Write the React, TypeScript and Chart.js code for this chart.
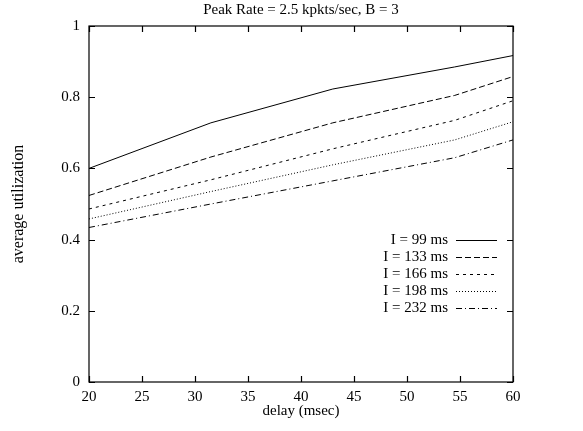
import React, { useEffect, useRef } from "react";
import { Chart, registerables } from "chart.js";

Chart.register(...registerables);

// ---- data ----
const delays = [20, 31.5, 43, 54.5, 60];
const seriesLabels = ["I = 99 ms", "I = 133 ms", "I = 166 ms", "I = 198 ms", "I = 232 ms"];
const util99 = [0.6, 0.728, 0.823, 0.885, 0.917];
const util133 = [0.524, 0.632, 0.728, 0.805, 0.858];
const util166 = [0.486, 0.568, 0.655, 0.735, 0.79];
const util198 = [0.458, 0.535, 0.61, 0.68, 0.731];
const util232 = [0.434, 0.5, 0.565, 0.63, 0.68];
const xTickValues = [20, 25, 30, 35, 40, 45, 50, 55, 60];
const yTickValues = [0, 0.2, 0.4, 0.6, 0.8, 1];
const titleText = "Peak Rate = 2.5 kpkts/sec, B = 3";
const xTitle = "delay (msec)";
const yTitle = "average utilization";

const seriesValues = [util99, util133, util166, util198, util232];
const dashPatterns: number[][] = [[], [6, 3], [3, 4], [1, 2], [6, 3, 1, 3]];
const FONT = "'Liberation Serif', 'Times New Roman', serif";
const FS = 15;

const framePlugin = {
  id: "gnuplotFrame",
  afterDatasetsDraw(chart: any) {
    const { ctx, chartArea } = chart;
    const { left, right, top, bottom } = chartArea;
    const xs = chart.scales.x;
    const ys = chart.scales.y;
    ctx.save();
    ctx.strokeStyle = "#000";
    ctx.lineWidth = 1.2;
    ctx.setLineDash([]);
    ctx.strokeRect(left, top, right - left, bottom - top);
    const tl = 6;
    ctx.beginPath();
    xs.ticks.forEach((t: any) => {
      const px = Math.round(xs.getPixelForValue(t.value)) + 0.5;
      ctx.moveTo(px, bottom);
      ctx.lineTo(px, bottom - tl);
      ctx.moveTo(px, top);
      ctx.lineTo(px, top + tl);
    });
    ys.ticks.forEach((t: any) => {
      const py = Math.round(ys.getPixelForValue(t.value)) + 0.5;
      ctx.moveTo(left, py);
      ctx.lineTo(left + tl, py);
      ctx.moveTo(right, py);
      ctx.lineTo(right - tl, py);
    });
    ctx.stroke();

    // title
    ctx.fillStyle = "#000";
    ctx.font = `${FS}px ${FONT}`;
    ctx.textAlign = "center";
    ctx.textBaseline = "middle";
    ctx.fillText(titleText, (left + right) / 2, top - 16);

    // legend
    const textRight = right - 65;
    const sampleL = right - 57;
    const sampleR = right - 16;
    const rowTop = top + 214;
    ctx.textAlign = "right";
    chart.data.datasets.forEach((ds: any, i: number) => {
      const ry = rowTop + i * 17;
      ctx.fillText(ds.label, textRight, ry);
      ctx.beginPath();
      ctx.lineWidth = 1;
      ctx.setLineDash(ds.borderDash || []);
      ctx.moveTo(sampleL, ry + 0.5);
      ctx.lineTo(sampleR, ry + 0.5);
      ctx.stroke();
    });
    ctx.restore();
  },
};

export default function App() {
  const ref = useRef<HTMLCanvasElement | null>(null);
  useEffect(() => {
    document.body.style.margin = "0";
    const canvas = ref.current;
    if (!canvas) return;
    const chart = new Chart(canvas, {
      type: "line",
      data: {
        datasets: seriesLabels.map((label, i) => ({
          label,
          data: delays.map((d, j) => ({ x: d, y: seriesValues[i][j] })),
          borderColor: "#000",
          backgroundColor: "#000",
          borderWidth: 1,
          borderDash: dashPatterns[i],
          pointRadius: 0,
          tension: 0,
          fill: false,
        })),
      },
      options: {
        animation: false,
        responsive: false,
        devicePixelRatio: 1,
        layout: { padding: { top: 26, right: 70, bottom: 0, left: 0 } },
        plugins: {
          legend: { display: false },
          title: { display: false },
          tooltip: { enabled: false },
        },
        scales: {
          x: {
            type: "linear",
            min: 20,
            max: 60,
            afterBuildTicks: (scale: any) => {
              scale.ticks = xTickValues.map((v) => ({ value: v }));
            },
            afterFit: (scale: any) => {
              scale.height = 49;
            },
            grid: { display: false, drawTicks: false },
            border: { display: false },
            ticks: {
              padding: 6,
              color: "#000",
              font: { family: FONT, size: FS },
              maxRotation: 0,
            },
            title: {
              display: true,
              text: xTitle,
              color: "#000",
              font: { family: FONT, size: FS },
              padding: { top: 0, bottom: 11 },
            },
          },
          y: {
            type: "linear",
            min: 0,
            max: 1,
            afterBuildTicks: (scale: any) => {
              scale.ticks = yTickValues.map((v) => ({ value: v }));
            },
            afterFit: (scale: any) => {
              scale.width = 89;
            },
            grid: { display: false, drawTicks: false },
            border: { display: false },
            ticks: {
              padding: 9,
              color: "#000",
              font: { family: FONT, size: FS },
              callback: (v: any) => String(Number(v)),
            },
            title: {
              display: true,
              text: yTitle,
              color: "#000",
              font: { family: FONT, size: 16 },
              padding: { top: 9, bottom: 0 },
            },
          },
        },
      },
      plugins: [framePlugin],
    });
    return () => chart.destroy();
  }, []);
  return (
    <div style={{ position: "fixed", left: 0, top: 0, width: 583, height: 431, background: "#fff" }}>
      <canvas ref={ref} width={583} height={431} />
    </div>
  );
}
